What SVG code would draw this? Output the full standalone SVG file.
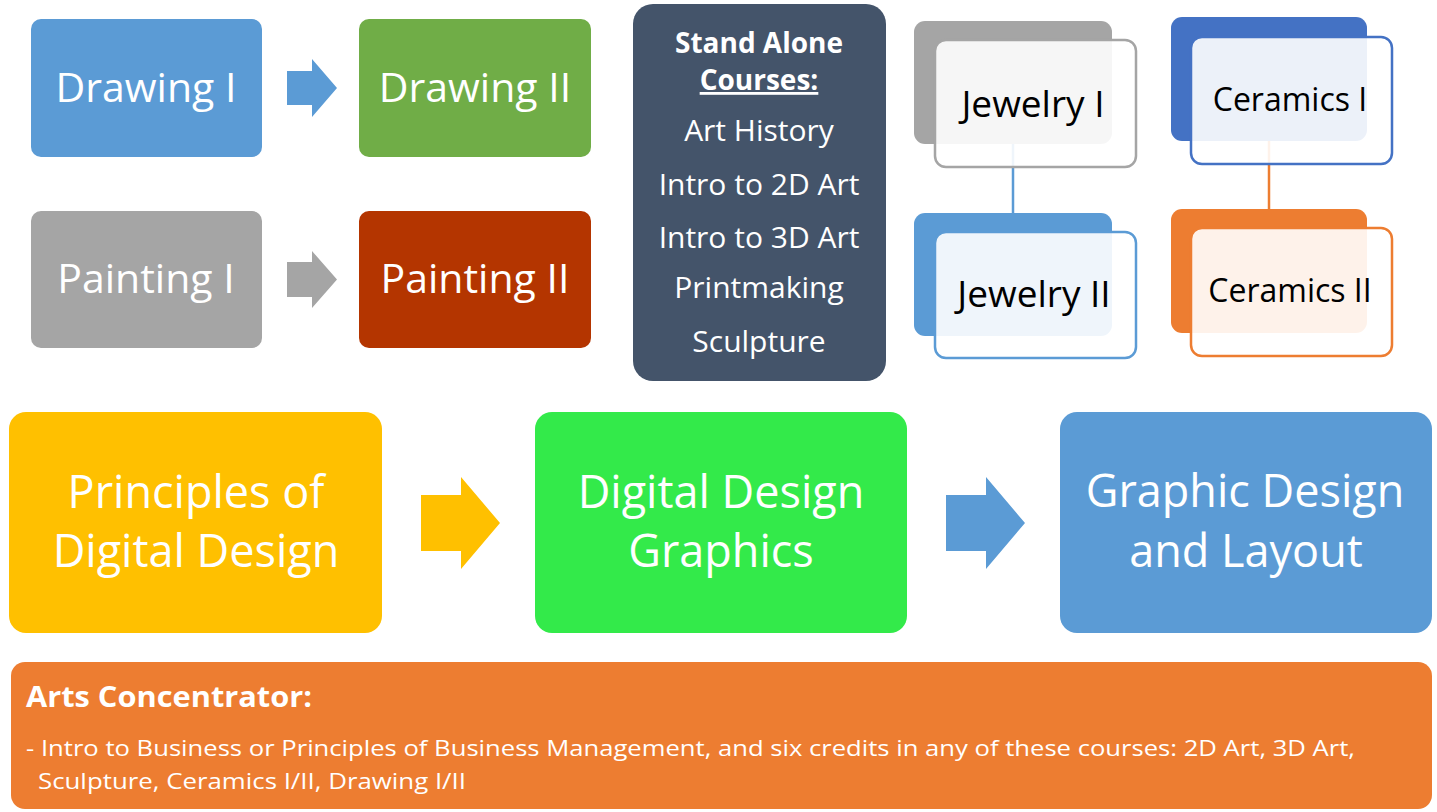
<svg xmlns="http://www.w3.org/2000/svg" width="1437" height="812" viewBox="0 0 1437 812">
<style>
text{font-family:"Open Sans","Noto Sans","Liberation Sans",sans-serif;}
.w{fill:#FFFFFF;}
.k{fill:#000000;}
.c{text-anchor:middle;}
.b{font-weight:bold;}
.front{fill:#FFFFFF;fill-opacity:0.9;stroke-width:2.5;}
</style>
<rect x="0" y="0" width="1437" height="812" fill="#FFFFFF"/>
<g id="connectors">
  <line x1="1013" y1="144" x2="1013" y2="213" stroke="#5B9BD5" stroke-width="2.5"/>
  <line x1="1269" y1="141" x2="1269" y2="209" stroke="#ED7D31" stroke-width="2.5"/>
  <polygon points="287,71 312,71 312,59 337,88 312,117 312,105 287,105" fill="#5B9BD5"/>
  <polygon points="287,262 312,262 312,251 337,279.5 312,308 312,297 287,297" fill="#A5A5A5"/>
  <polygon points="421,495 461,495 461,477 500,523 461,569 461,551 421,551" fill="#FFC000"/>
  <polygon points="946,495 986,495 986,477 1025,523 986,569 986,551 946,551" fill="#5B9BD5"/>
</g>
<g id="drawing1">
  <rect x="31" y="19" width="231" height="138" rx="10" fill="#5B9BD5"/>
  <text x="146" y="102" class="w c" font-size="41">Drawing I</text>
</g>
<g id="drawing2">
  <rect x="359" y="19" width="232" height="138" rx="10" fill="#70AD47"/>
  <text x="475" y="102" class="w c" font-size="41">Drawing II</text>
</g>
<g id="painting1">
  <rect x="31" y="211" width="231" height="137" rx="10" fill="#A5A5A5"/>
  <text x="146" y="293" class="w c" font-size="41">Painting I</text>
</g>
<g id="painting2">
  <rect x="359" y="211" width="232" height="137" rx="10" fill="#B43500"/>
  <text x="475" y="293" class="w c" font-size="41">Painting II</text>
</g>
<g id="standalone">
  <rect x="633" y="4" width="253" height="377" rx="20" fill="#44546A"/>
  <text x="759" y="53" class="w c b" font-size="28">Stand Alone</text>
  <text x="759" y="90" class="w c b" font-size="28" text-decoration="underline">Courses:</text>
  <text x="759" y="141" class="w c" font-size="30">Art History</text>
  <text x="759" y="195" class="w c" font-size="30">Intro to 2D Art</text>
  <text x="759" y="248" class="w c" font-size="30">Intro to 3D Art</text>
  <text x="759" y="298" class="w c" font-size="30">Printmaking</text>
  <text x="759" y="352" class="w c" font-size="30">Sculpture</text>
</g>
<g id="jewelry1">
  <rect x="914" y="21" width="198" height="123" rx="11" fill="#A5A5A5"/>
  <rect x="935" y="40" width="201" height="127" rx="11" class="front" stroke="#A5A5A5"/>
  <text x="1033" y="117" class="k c" font-size="37">Jewelry I</text>
</g>
<g id="jewelry2">
  <rect x="914" y="213" width="198" height="123" rx="11" fill="#5B9BD5"/>
  <rect x="935" y="232" width="201" height="126" rx="11" class="front" stroke="#5B9BD5"/>
  <text x="1034" y="307" class="k c" font-size="37">Jewelry II</text>
</g>
<g id="ceramics1">
  <rect x="1171" y="17" width="196" height="124" rx="11" fill="#4472C4"/>
  <rect x="1191" y="37" width="201" height="127" rx="11" class="front" stroke="#4472C4"/>
  <text x="1290" y="111" class="k c" font-size="32">Ceramics I</text>
</g>
<g id="ceramics2">
  <rect x="1171" y="209" width="196" height="124" rx="11" fill="#ED7D31"/>
  <rect x="1191" y="228" width="201" height="128" rx="11" class="front" stroke="#ED7D31"/>
  <text x="1290" y="302" class="k c" font-size="32">Ceramics II</text>
</g>
<g id="principles">
  <rect x="9" y="412" width="373" height="221" rx="17" fill="#FFC000"/>
  <text x="196" y="508" class="w c" font-size="45">Principles of</text>
  <text x="196" y="567" class="w c" font-size="45">Digital Design</text>
</g>
<g id="digital">
  <rect x="535" y="412" width="372" height="221" rx="17" fill="#33EA4A"/>
  <text x="721" y="508" class="w c" font-size="45">Digital Design</text>
  <text x="721" y="567" class="w c" font-size="45">Graphics</text>
</g>
<g id="graphic">
  <rect x="1060" y="412" width="372" height="221" rx="17" fill="#5B9BD5"/>
  <text x="1245" y="507" class="w c" font-size="45">Graphic Design</text>
  <text x="1246" y="567" class="w c" font-size="45">and Layout</text>
</g>
<g id="concentrator">
  <rect x="11" y="662" width="1421" height="147" rx="14" fill="#ED7D31"/>
  <text x="26" y="707" class="w b" font-size="29" textLength="286" lengthAdjust="spacingAndGlyphs">Arts Concentrator:</text>
  <text x="26" y="756" class="w" font-size="22" textLength="1329" lengthAdjust="spacingAndGlyphs">- Intro to Business or Principles of Business Management, and six credits in any of these courses: 2D Art, 3D Art,</text>
  <text x="38" y="789" class="w" font-size="22" textLength="428" lengthAdjust="spacingAndGlyphs">Sculpture, Ceramics I/II, Drawing I/II</text>
</g>
</svg>
